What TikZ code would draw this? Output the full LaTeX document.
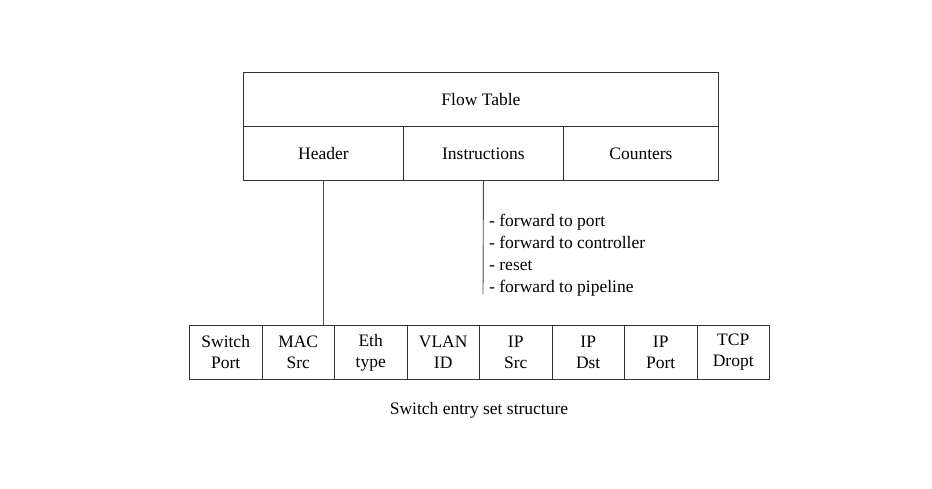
\documentclass[tikz,border=0pt]{standalone}
\usepackage{fontspec}
\setmainfont{Liberation Serif}
\begin{document}
\begin{tikzpicture}[x=1pt,y=-1pt,
  every node/.style={font=\fontsize{17.5}{21}\selectfont},
  cell/.style={draw=black!80, line width=0.9pt, minimum height=54pt, inner sep=0pt, align=center},
  fld/.style={cell, minimum width=72.5pt, anchor=north west},
  conn/.style={draw=black!70, line width=0.9pt}]
\useasboundingbox (0,0) rectangle (932,488);
\node[cell, minimum width=475pt, anchor=north west] (ft) at (243,72) {Flow Table};
\node[cell, minimum width=160pt, anchor=north west] (hdr) at (243,126) {Header};
\node[cell, minimum width=160pt, anchor=north west] (ins) at (403,126) {Instructions};
\node[cell, minimum width=155pt, anchor=north west] (cnt) at (563,126) {Counters};
\node[fld] (f1) at (189.0,325) {Switch\\Port};
\node[fld] (f2) at (261.5,325) {MAC\\Src};
\node[fld] (f3) at (334.0,325) {Eth\\type};
\node[fld] (f4) at (406.5,325) {VLAN\\ID};
\node[fld] (f5) at (479.0,325) {IP\\Src};
\node[fld] (f6) at (551.5,325) {IP\\Dst};
\node[fld] (f7) at (624.0,325) {IP\\Port};
\node[fld] (f8) at (696.5,325) {TCP\\Dropt};
\coordinate (insend) at (483,294);
\draw[conn] (hdr.south) -- (hdr.south |- f2.north);
\draw[conn] (ins.south) -- (insend);
\node[anchor=north west, align=left, inner sep=0pt, font=\fontsize{17.5}{22}\selectfont] (acts) at (489,214)
  {- forward to port\\- forward to controller\\- reset\\- forward to pipeline};
\node (cap) at (479,410) {Switch entry set structure};
\end{tikzpicture}
\end{document}
